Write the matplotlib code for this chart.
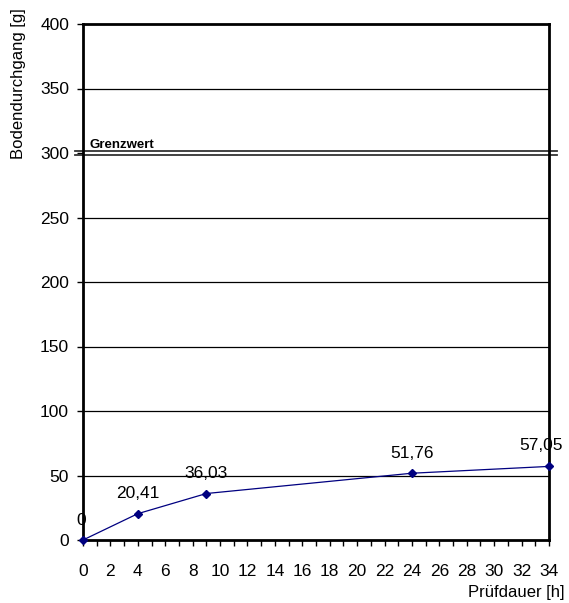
import matplotlib
matplotlib.use("Agg")
import matplotlib.pyplot as plt
from matplotlib.ticker import MultipleLocator

plt.rcParams['font.family'] = ['Liberation Sans', 'DejaVu Sans']

hours = [0, 4, 9, 24, 34]
throughput = [0, 20.41, 36.03, 51.76, 57.05]
labels = ['0', '20,41', '36,03', '51,76', '57,05']
limit = 300

fig = plt.figure(figsize=(5.69, 6.03), dpi=100)
ax = fig.add_axes([83 / 569, 63 / 603, 466 / 569, 516 / 603])

for y in range(50, 400, 50):
    if y != limit:
        ax.axhline(y, color='black', lw=0.9, zorder=1)

# double limit line
ax.plot([-0.6, 34.6], [limit + 1.2, limit + 1.2], color='#333333', lw=1.3,
        clip_on=False, zorder=2)
ax.plot([-0.6, 34.6], [limit - 1.2, limit - 1.2], color='#333333', lw=1.3,
        clip_on=False, zorder=2)
ax.text(0.45, limit + 4, 'Grenzwert', fontsize=9.5, fontweight='bold',
        va='baseline')

ax.plot(hours, throughput, color='#000080', lw=0.9, marker='D', ms=4,
        clip_on=False, zorder=3)

offsets = [(-1, 11), (0, 11.5), (0, 11.5), (0, 11), (-6, 12)]
for x, y, t, off in zip(hours, throughput, labels, offsets):
    ax.annotate(t, (x, y), xytext=off, textcoords='offset points',
                ha='center', va='baseline', fontsize=12.5)

ax.set_xlim(0, 34)
ax.set_ylim(0, 400)
ax.xaxis.set_major_locator(MultipleLocator(2))
ax.xaxis.set_minor_locator(MultipleLocator(1))
ax.yaxis.set_major_locator(MultipleLocator(50))
ax.tick_params(axis='both', which='both', direction='out', width=1, labelsize=12.5)
ax.tick_params(axis='both', which='major', length=4)
ax.tick_params(axis='x', which='minor', length=4)
ax.tick_params(axis='x', pad=13)
ax.tick_params(axis='y', pad=6)
for s in ax.spines.values():
    s.set_linewidth(2)

fig.text(19 / 569, 1 - 8 / 603, 'Bodendurchgang [g]', rotation=90,
         ha='center', va='top', fontsize=12)
fig.text(565 / 569, 1 - 593 / 603, 'Prüfdauer [h]', ha='right', va='center',
         fontsize=12)

fig.savefig('out.png', dpi=100)
